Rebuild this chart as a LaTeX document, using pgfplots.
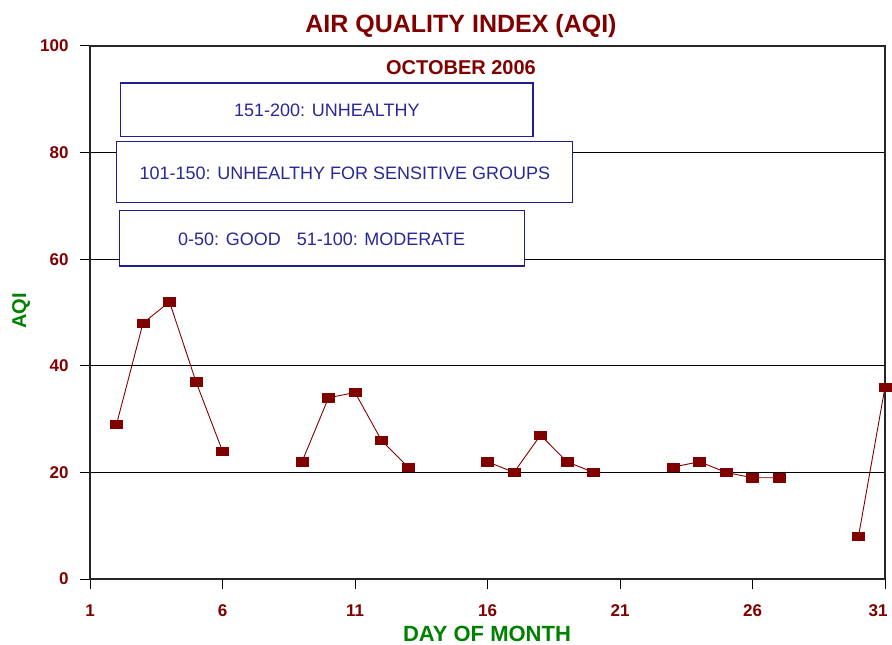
\documentclass[border=0pt]{standalone}
\usepackage{pgfplots}
\pgfplotsset{compat=1.18}
\usepackage{fontspec}
\setmainfont{Liberation Sans}
\definecolor{dred}{RGB}{128,0,0}
\definecolor{dgreen}{RGB}{0,128,0}
\definecolor{navytext}{RGB}{40,40,150}
\definecolor{navyline}{RGB}{30,30,140}
\begin{document}
\begin{tikzpicture}
\useasboundingbox (-90bp,-66bp) rectangle (802bp,579bp);
\begin{axis}[
 at={(0,0)}, anchor=south west,
 scale only axis, width=795bp, height=533bp,
 xmin=1, xmax=31, ymin=0, ymax=100,
 xtick={1,6,11,16,21,26}, ytick={0,20,...,100},
 extra x ticks={31},
 extra x tick style={xticklabel style={xshift=-7bp}},
 tick align=outside, xtick pos=bottom, ytick pos=left,
 major tick length=10bp,
 ymajorgrids, grid style={black, line width=1bp},
 axis line style={black!85, line width=1.2bp},
 tick style={black, line width=1bp},
 /pgf/number format/assume math mode=true,
 tick label style={font=\fontsize{17bp}{20bp}\selectfont\bfseries, text=dred},
 xticklabel style={yshift=-12bp},
 yticklabel style={xshift=-8bp},
 unbounded coords=jump,
 clip=false,
]
\filldraw[fill=white, draw=navyline, line width=1.5bp] (axis cs:2.158,93.06) rectangle (axis cs:17.72,82.98);
\node[font=\fontsize{18bp}{21bp}\selectfont, text=navytext] at (axis cs:9.94,88.0) {151-200: UNHEALTHY};
\filldraw[fill=white, draw=navyline, line width=1.5bp] (axis cs:2.0075,82.04) rectangle (axis cs:19.215,70.6);
\node[font=\fontsize{18bp}{21bp}\selectfont, text=navytext] at (axis cs:10.62,76.2) {101-150: UNHEALTHY FOR SENSITIVE GROUPS};
\filldraw[fill=white, draw=navyline, line width=1.5bp] (axis cs:2.106,69.1) rectangle (axis cs:17.39,58.72);
\node[font=\fontsize{18bp}{21bp}\selectfont, text=navytext] at (axis cs:9.74,63.8) {0-50: GOOD\hspace{16bp}51-100: MODERATE};
\node[font=\fontsize{20bp}{24bp}\selectfont\bfseries, text=dred] at (axis cs:15.0,95.9) {OCTOBER 2006};
\addplot[color=dred, line width=0.9bp, mark=square*, mark size=4.2bp,
  mark options={xscale=1.4, fill=dred, draw=dred, line width=0.6bp}]
  coordinates {(2,29)(3,48)(4,52)(5,37)(6,24)(7,nan)
  (9,22)(10,34)(11,35)(12,26)(13,21)(14,nan)
  (16,22)(17,20)(18,27)(19,22)(20,20)(21,nan)
  (23,21)(24,22)(25,20)(26,19)(27,19)(28,nan)
  (30,8)(31,36)};
\end{axis}
\node[font=\fontsize{25bp}{30bp}\selectfont\bfseries, text=dred] at (371bp,553bp) {AIR QUALITY INDEX (AQI)};
\node[font=\fontsize{20bp}{24bp}\selectfont\bfseries, text=dgreen, rotate=90] at (-69bp,268bp) {AQI};
\node[font=\fontsize{22bp}{26bp}\selectfont\bfseries, text=dgreen, inner sep=1bp] at (397bp,-55bp) {DAY OF MONTH};
\end{tikzpicture}
\end{document}
